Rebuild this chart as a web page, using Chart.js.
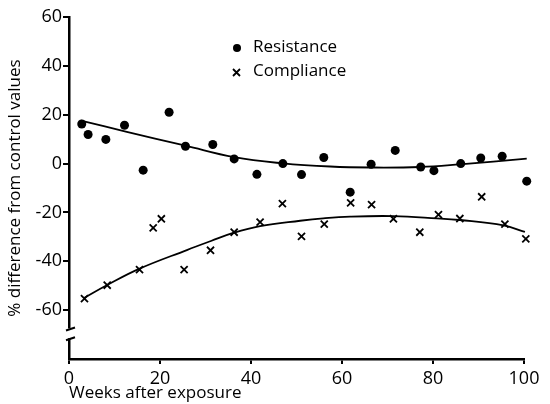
<!DOCTYPE html>
<html>
<head>
<meta charset="utf-8">
<script src="https://cdn.jsdelivr.net/npm/chart.js@4"></script>
<style>
  body { margin: 0; background: #fff; }
  canvas { display: block; }
</style>
</head>
<body>
<canvas id="chart" width="550" height="404"></canvas>
<script>
// 抵抗（黒丸）
const resWeeks = [2.8, 4.2, 8.1, 12.2, 16.3, 22.0, 25.6, 31.6, 36.3, 41.3, 47.0, 51.1, 56.0, 61.8, 66.4, 71.7, 77.3, 80.2, 86.1, 90.5, 95.2, 100.6];
const resValues = [16.2, 11.9, 9.9, 15.7, -2.7, 21.0, 7.1, 7.8, 1.9, -4.4, 0.0, -4.5, 2.5, -11.7, -0.3, 5.4, -1.4, -2.9, 0.0, 2.3, 3.0, -7.2];

// コンプライアンス（×印）
const compWeeks = [3.4, 8.4, 15.5, 18.5, 20.3, 25.3, 31.1, 36.3, 42.0, 46.9, 51.1, 56.1, 61.9, 66.5, 71.3, 77.1, 81.2, 85.9, 90.7, 95.8, 100.4];
const compValues = [-55.3, -49.8, -43.4, -26.3, -22.6, -43.4, -35.5, -28.1, -24.0, -16.4, -29.8, -24.8, -16.1, -16.8, -22.6, -28.1, -20.9, -22.5, -13.6, -24.8, -30.8];

// 近似曲線（図から読み取った点）
const resFitWeeks = [2.6, 12.7, 25.6, 36.3, 47.0, 57.4, 66.3, 77.1, 85.9, 100.6];
const resFitValues = [17.6, 13.0, 7.3, 2.6, 0.1, -1.2, -1.6, -1.4, -0.3, 2.0];
const compFitWeeks = [3.3, 8.3, 15.4, 25.9, 31.2, 36.1, 42.0, 50.8, 55.9, 61.8, 71.3, 80.8, 85.9, 95.5, 100.2];
const compFitValues = [-55.0, -49.8, -43.1, -35.4, -31.7, -28.4, -25.6, -23.4, -22.4, -21.7, -21.5, -22.4, -23.1, -25.3, -28.0];

// 軸目盛
const xTicks = [0, 20, 40, 60, 80, 100];
const yTicks = [-60, -40, -20, 0, 20, 40, 60];

const toPoints = (xs, ys) => xs.map((x, i) => ({ x: x, y: ys[i] }));
const FONT = '"Open Sans", "DejaVu Sans", sans-serif';

// 軸の省略記号と凡例を描く
const extrasPlugin = {
  id: 'extras',
  afterDraw(chart) {
    const ctx = chart.ctx;
    const x = chart.scales.x;
    const y = chart.scales.y;
    const left = x.left;
    const y1 = y.getPixelForValue(-67.5);
    const y2 = y.getPixelForValue(-71.5);
    ctx.save();
    ctx.fillStyle = '#fff';
    ctx.fillRect(left - 3, y1, 6, y2 - y1);
    ctx.strokeStyle = '#000';
    ctx.lineWidth = 2;
    ctx.beginPath();
    ctx.moveTo(left - 3, y1 + 2);
    ctx.lineTo(left + 6, y1 - 1);
    ctx.moveTo(left - 3, y2 + 2);
    ctx.lineTo(left + 6, y2 - 1);
    ctx.stroke();

    // 凡例
    ctx.fillStyle = '#000';
    ctx.font = '17px ' + FONT;
    ctx.textBaseline = 'middle';
    ctx.beginPath();
    ctx.arc(237, 48, 4, 0, Math.PI * 2);
    ctx.fill();
    ctx.fillText(chart.data.datasets[0].label, 253, 47);
    ctx.lineWidth = 1.8;
    ctx.beginPath();
    ctx.moveTo(233, 69); ctx.lineTo(240, 76);
    ctx.moveTo(240, 69); ctx.lineTo(233, 76);
    ctx.stroke();
    ctx.fillText(chart.data.datasets[1].label, 253, 71);
    ctx.restore();
  }
};

new Chart(document.getElementById('chart'), {
  type: 'scatter',
  data: {
    datasets: [
      {
        label: 'Resistance',
        data: toPoints(resWeeks, resValues),
        pointStyle: 'circle',
        pointRadius: 4.5,
        backgroundColor: '#000',
        borderColor: '#000',
        borderWidth: 0,
        clip: false
      },
      {
        label: 'Compliance',
        data: toPoints(compWeeks, compValues),
        pointStyle: 'crossRot',
        pointRadius: 5,
        borderColor: '#000',
        borderWidth: 1.8,
        clip: false
      },
      {
        label: 'Resistance fit',
        type: 'line',
        data: toPoints(resFitWeeks, resFitValues),
        borderColor: '#000',
        borderWidth: 1.8,
        pointRadius: 0,
        tension: 0.4,
        clip: false,
        fill: false
      },
      {
        label: 'Compliance fit',
        type: 'line',
        data: toPoints(compFitWeeks, compFitValues),
        borderColor: '#000',
        borderWidth: 1.8,
        pointRadius: 0,
        tension: 0.4,
        clip: false,
        fill: false
      }
    ]
  },
  options: {
    responsive: false,
    animation: false,
    devicePixelRatio: 1,
    layout: { padding: { left: 0, right: 26, top: 17, bottom: 0 } },
    plugins: {
      legend: { display: false },
      tooltip: { enabled: false }
    },
    scales: {
      x: {
        type: 'linear',
        min: 0,
        max: 100,
        afterBuildTicks: (s) => { s.ticks = xTicks.map(v => ({ value: v })); },
        afterFit: (s) => { s.height = 45; },
        border: { color: '#000', width: 2.5 },
        grid: { drawOnChartArea: false, color: '#000', lineWidth: 2, tickLength: 5 },
        ticks: { color: '#000', padding: 4, font: { family: FONT, size: 18 } },
        title: {
          display: true,
          text: 'Weeks after exposure',
          align: 'start',
          color: '#000',
          padding: { top: 0, bottom: 1 },
          font: { family: FONT, size: 17 }
        }
      },
      y: {
        min: -80,
        max: 60,
        afterBuildTicks: (s) => { s.ticks = yTicks.map(v => ({ value: v })); },
        afterFit: (s) => { s.width = 69; },
        border: { color: '#000', width: 2.5 },
        grid: { drawOnChartArea: false, color: '#000', lineWidth: 2, tickLength: 6 },
        ticks: { color: '#000', padding: 1, font: { family: FONT, size: 18 } },
        title: {
          display: true,
          text: '% difference from control values',
          color: '#000',
          padding: { top: 5, bottom: 0 },
          font: { family: FONT, size: 17 }
        }
      }
    }
  },
  plugins: [extrasPlugin]
});
</script>
</body>
</html>
